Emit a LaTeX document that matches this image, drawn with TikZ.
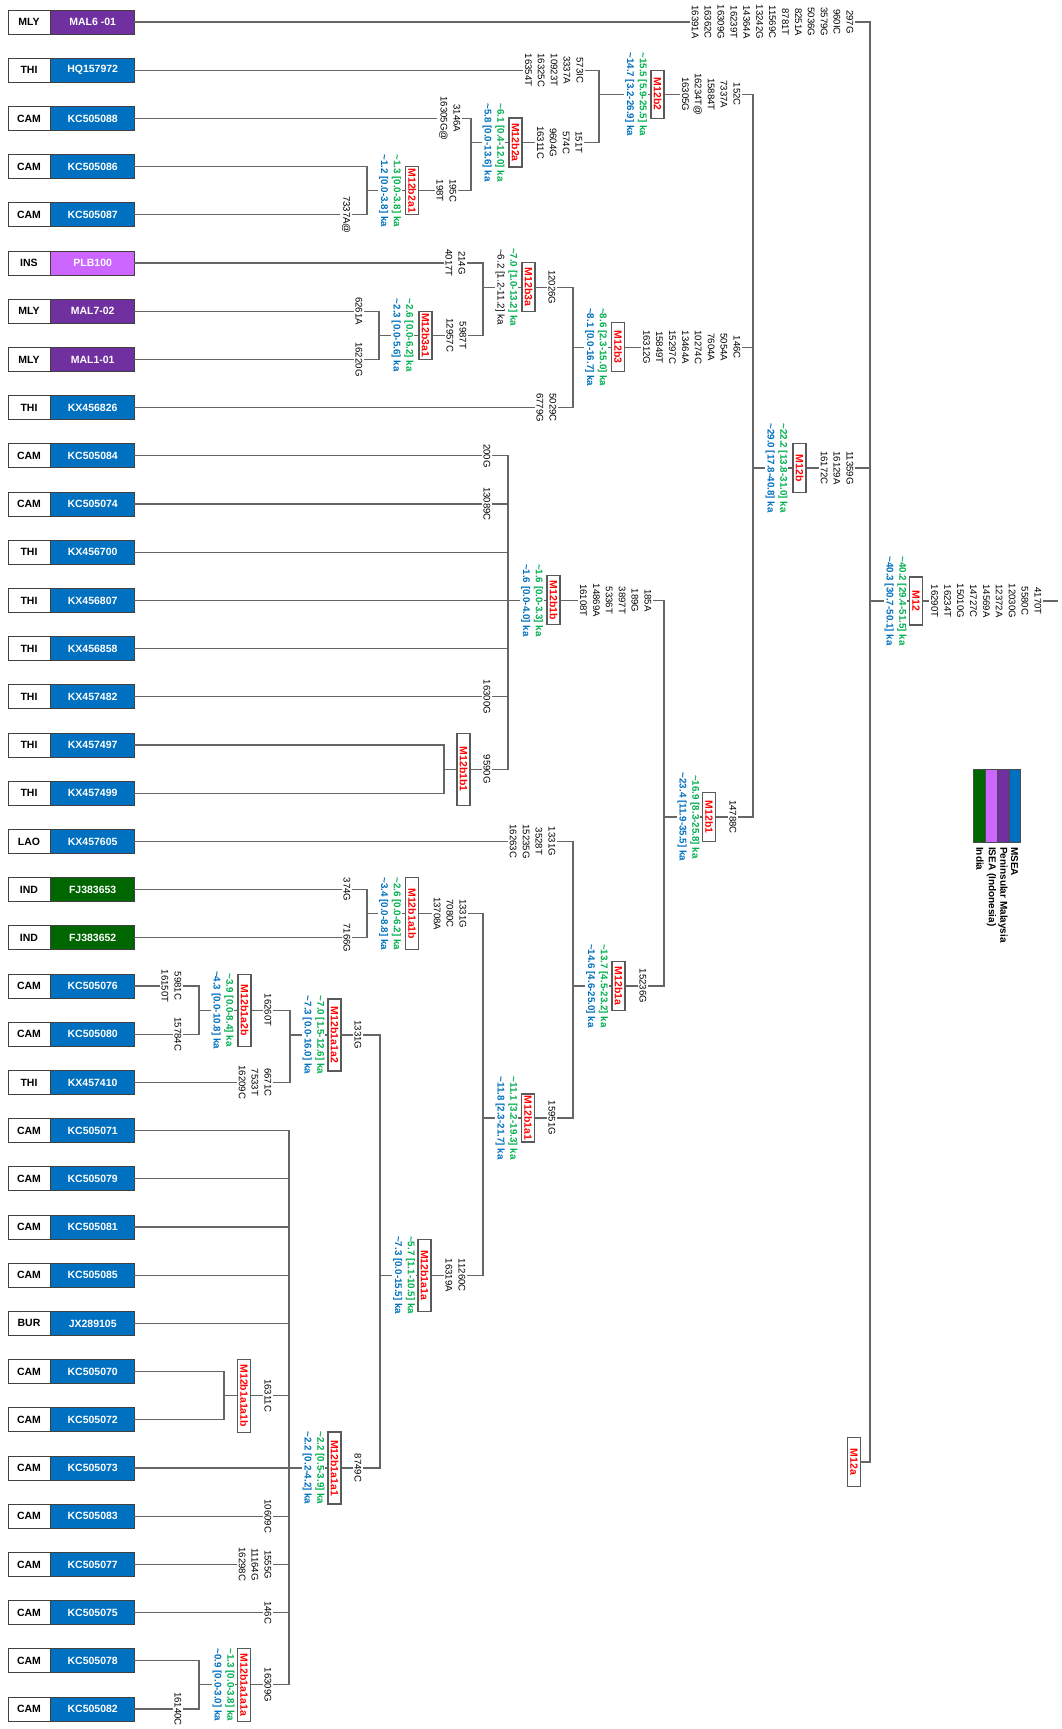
\documentclass[tikz,border=0pt]{standalone}
\usepackage{fontspec}
\setmainfont{Liberation Sans}
\definecolor{lineg}{HTML}{666666}
\definecolor{boxg}{HTML}{5A5A5A}
\definecolor{dgreen}{HTML}{00B050}
\definecolor{dblue}{HTML}{0070C0}
\definecolor{cblue}{HTML}{0070C0}
\definecolor{cpurple}{HTML}{7030A0}
\definecolor{cpink}{HTML}{CC66FF}
\definecolor{cgreen}{HTML}{006600}
\definecolor{mred}{HTML}{FF0000}
\newcommand\apx{\textasciitilde}
\newcommand\mytaxon[5]{%
  \node[ctry] (c#1) at (29,#2) {#3};
  \node[acc, fill=#5, anchor=west] (t#1) at (c#1.east) {#4};}
\newcommand\mymut[4]{\node[mutlab] (#1) at ({#2+5.5},#3) {#4};}
\newcommand\mydates[5]{\node[datelab] (#1) at (#2,#3) {\textcolor{dgreen}{#4}\\\textcolor{dblue}{#5}};}
\newcommand\mybox[5]{\node[cladebox, minimum width=#4pt] (#1) at (#2,#3) {#5};}
\newcommand\vnode[5]{\coordinate (#1) at (#2,#3); \coordinate (#1-t) at (#2,#4); \coordinate (#1-b) at (#2,#5);}
\begin{document}
\begin{tikzpicture}[x=1pt,y=-1pt,
 br/.style={draw=lineg, line width=1.15pt, line cap=rect},
 mutlab/.style={rotate=-90, align=center, fill=white, inner xsep=1pt, inner ysep=2pt, anchor=north, font=\fontsize{9.6}{12.9}\selectfont},
 datelab/.style={rotate=-90, align=center, fill=white, inner xsep=1pt, inner ysep=1pt, font=\bfseries\fontsize{9.8}{12.8}\selectfont},
 cladebox/.style={rotate=-90, draw=boxg, line width=1.1pt, fill=white, text=mred, font=\bfseries\fontsize{10.5}{12}\selectfont, inner sep=0pt, minimum height=13pt},
 ctry/.style={draw=black!75, line width=0.7pt, fill=white, minimum width=42pt, minimum height=24pt, inner sep=0pt, font=\bfseries\fontsize{10.5}{12}\selectfont},
 acc/.style={draw=black!75, line width=0.7pt, minimum width=84pt, minimum height=24pt, inner sep=0pt, text=white, font=\bfseries\fontsize{10.5}{12}\selectfont},
 legbar/.style={draw=black!70, line width=0.6pt, minimum width=11.75pt, minimum height=73pt, inner sep=0pt},
 leglab/.style={rotate=-90, anchor=west, inner sep=0pt, font=\bfseries\fontsize{10}{12}\selectfont},
]
\useasboundingbox (0,0) rectangle (1062,1729);
\fill[white] (0,0) rectangle (1062,1729);

% taxa
\mytaxon{0}{22}{MLY}{MAL6 -01}{cpurple}
\mytaxon{1}{70.2}{THI}{HQ157972}{cblue}
\mytaxon{2}{118.4}{CAM}{KC505088}{cblue}
\mytaxon{3}{166.6}{CAM}{KC505086}{cblue}
\mytaxon{4}{214.8}{CAM}{KC505087}{cblue}
\mytaxon{5}{263}{INS}{PLB100}{cpink}
\mytaxon{6}{311.2}{MLY}{MAL7-02}{cpurple}
\mytaxon{7}{359.4}{MLY}{MAL1-01}{cpurple}
\mytaxon{8}{407.6}{THI}{KX456826}{cblue}
\mytaxon{9}{455.8}{CAM}{KC505084}{cblue}
\mytaxon{10}{504}{CAM}{KC505074}{cblue}
\mytaxon{11}{552.2}{THI}{KX456700}{cblue}
\mytaxon{12}{600.4}{THI}{KX456807}{cblue}
\mytaxon{13}{648.6}{THI}{KX456858}{cblue}
\mytaxon{14}{696.8}{THI}{KX457482}{cblue}
\mytaxon{15}{745}{THI}{KX457497}{cblue}
\mytaxon{16}{793.2}{THI}{KX457499}{cblue}
\mytaxon{17}{841.4}{LAO}{KX457605}{cblue}
\mytaxon{18}{889.6}{IND}{FJ383653}{cgreen}
\mytaxon{19}{937.8}{IND}{FJ383652}{cgreen}
\mytaxon{20}{986}{CAM}{KC505076}{cblue}
\mytaxon{21}{1034.2}{CAM}{KC505080}{cblue}
\mytaxon{22}{1082.4}{THI}{KX457410}{cblue}
\mytaxon{23}{1130.6}{CAM}{KC505071}{cblue}
\mytaxon{24}{1178.8}{CAM}{KC505079}{cblue}
\mytaxon{25}{1227}{CAM}{KC505081}{cblue}
\mytaxon{26}{1275.2}{CAM}{KC505085}{cblue}
\mytaxon{27}{1323.4}{BUR}{JX289105}{cblue}
\mytaxon{28}{1371.6}{CAM}{KC505070}{cblue}
\mytaxon{29}{1419.8}{CAM}{KC505072}{cblue}
\mytaxon{30}{1468}{CAM}{KC505073}{cblue}
\mytaxon{31}{1516.2}{CAM}{KC505083}{cblue}
\mytaxon{32}{1564.4}{CAM}{KC505077}{cblue}
\mytaxon{33}{1612.6}{CAM}{KC505075}{cblue}
\mytaxon{34}{1660.8}{CAM}{KC505078}{cblue}
\mytaxon{35}{1709}{CAM}{KC505082}{cblue}

% internal nodes
\vnode{M12}{870}{601}{22}{1462}
\coordinate (root) at (1057,601);
\vnode{M12b}{753}{468}{94.3}{817}
\vnode{M12b2}{599}{94.3}{70.2}{142.5}
\vnode{M12b2a}{471}{142.5}{118.4}{190.7}
\vnode{M12b2a1}{367}{190.7}{166.6}{214.8}
\vnode{M12b3}{573}{347.3}{287.1}{407.6}
\vnode{M12b3a}{483}{287.1}{263}{335.3}
\vnode{M12b3a1}{379}{335.3}{311.2}{359.4}
\vnode{M12b1}{664}{817}{600.4}{986}
\vnode{M12b1b}{508}{600.4}{455.8}{769.1}
\vnode{M12b1b1}{444}{769.1}{745}{793.2}
\vnode{M12b1a}{573}{986}{841.4}{1118}
\vnode{M12b1a1}{483}{1118}{913.7}{1275.2}
\vnode{M12b1a1b}{367}{913.7}{889.6}{937.8}
\vnode{M12b1a1a}{380}{1275.2}{1035}{1468}
\vnode{M12b1a1a2}{290}{1035}{1010.1}{1082.4}
\vnode{M12b1a2b}{199}{1010.1}{986}{1034.2}
\vnode{M12b1a1a1}{289}{1468}{1130.6}{1684.9}
\vnode{M12b1a1a1b}{224}{1395.7}{1371.6}{1419.8}
\vnode{M12b1a1a1a}{199}{1684.9}{1660.8}{1709}

% connectors
\draw[br] (M12-t) -- (M12-b);
\draw[br] (M12) -- (root);
\foreach \n/\p in {M12b/M12, M12b2/M12b, M12b2a/M12b2, M12b2a1/M12b2a, M12b3/M12b, M12b3a/M12b3, M12b3a1/M12b3a, M12b1/M12b, M12b1b/M12b1, M12b1b1/M12b1b, M12b1a/M12b1, M12b1a1/M12b1a, M12b1a1b/M12b1a1, M12b1a1a/M12b1a1, M12b1a1a2/M12b1a1a, M12b1a2b/M12b1a1a2, M12b1a1a1/M12b1a1a, M12b1a1a1b/M12b1a1a1, M12b1a1a1a/M12b1a1a1}
  {\draw[br] (\n-t) -- (\n-b); \draw[br] (\n) -- (\n -| \p);}
\foreach \i/\p in {0/M12, 1/M12b2, 2/M12b2a, 3/M12b2a1, 4/M12b2a1, 5/M12b3a, 6/M12b3a1, 7/M12b3a1, 8/M12b3, 9/M12b1b, 10/M12b1b, 11/M12b1b, 12/M12b1b, 13/M12b1b, 14/M12b1b, 15/M12b1b1, 16/M12b1b1, 17/M12b1a, 18/M12b1a1b, 19/M12b1a1b, 20/M12b1a2b, 21/M12b1a2b, 22/M12b1a1a2, 23/M12b1a1a1, 24/M12b1a1a1, 25/M12b1a1a1, 26/M12b1a1a1, 27/M12b1a1a1, 28/M12b1a1a1b, 29/M12b1a1a1b, 30/M12b1a1a1, 31/M12b1a1a1, 32/M12b1a1a1, 33/M12b1a1a1, 34/M12b1a1a1a, 35/M12b1a1a1a}
  {\draw[br] (t\i.east) -- (t\i.east -| \p);}

% leaf mutations
\mymut{l0}{850}{22}{297G\\960IC\\3579G\\5036G\\8251A\\8781T\\11569C\\13242G\\14364A\\16239T\\16309G\\16362C\\16391A}
\mymut{l1}{580}{70.2}{573IC\\3337A\\10923T\\16325C\\16354T}
\mymut{l2}{457}{118.4}{3146A\\16305G@}
\mymut{l4}{347}{214.8}{7337A@}
\mymut{l5}{462}{263}{214G\\4017T}
\mymut{l6}{359}{311.2}{6261A}
\mymut{l7}{359}{359.4}{16220G}
\mymut{l8}{553}{407.6}{5029C\\6779G}
\mymut{l9}{487}{455.8}{200G}
\mymut{l10}{487}{504}{13089C}
\mymut{l14}{487}{696.8}{16300G}
\mymut{l17}{552}{841.4}{1331G\\3528T\\15235G\\16263C}
\mymut{l18}{347}{889.6}{374G}
\mymut{l19}{347}{937.8}{7166G}
\mymut{l20}{178}{986}{5981C\\16150T}
\mymut{l21}{178}{1034.2}{15784C}
\mymut{l22}{268}{1082.4}{6671C\\7533T\\16209C}
\mymut{l31}{268}{1516.2}{10609C}
\mymut{l32}{268}{1564.4}{1555G\\11164G\\16298C}
\mymut{l33}{268}{1612.6}{146C}
\mymut{l35}{178}{1709}{16140C}

% stem mutations
\mymut{s-root}{1038}{601}{4170T\\5580C\\12030G\\12372A\\14569A\\14727C\\15010G\\16234T\\16290T}
\mymut{s-M12b}{850}{468}{11359G\\16129A\\16172C}
\mymut{s-M12b2}{737}{94.3}{152C\\7337A\\15884T\\16234T@\\16305G}
\mymut{s-M12b2a}{579}{142.5}{151T\\574C\\9604G\\16311C}
\mymut{s-M12b2a1}{453}{190.7}{195C\\198T}
\mymut{s-M12b3}{737}{347.3}{146C\\5054A\\7604A\\10274C\\13464A\\15297C\\15849T\\16312G}
\mymut{s-M12b3a}{552}{287.1}{12026G}
\mymut{s-M12b3a1}{463}{335.3}{5987T\\12957C}
\mymut{s-M12b1}{733}{817}{14788C}
\mymut{s-M12b1b}{648}{600.4}{185A\\189G\\3897T\\5336T\\14869A\\16108T}
\mymut{s-M12b1b1}{487}{769.1}{9590G}
\mymut{s-M12b1a}{643}{986}{15236G}
\mymut{s-M12b1a1}{552}{1118}{15951G}
\mymut{s-M12b1a1b}{463}{913.7}{1331G\\7080C\\13708A}
\mymut{s-M12b1a1a}{462}{1275.2}{11260C\\16319A}
\mymut{s-M12b1a1a2}{358}{1035}{1331G}
\mymut{s-M12b1a2b}{268}{1010.1}{16260T}
\mymut{s-M12b1a1a1}{358}{1468}{8749C}
\mymut{s-M12b1a1a1b}{268}{1395.7}{16311C}
\mymut{s-M12b1a1a1a}{268}{1684.9}{16309G}

% dates
\mydates{d-M12}{895.5}{601}{\apx40.2 [29.4-51.5] ka}{\apx40.3 [30.7-50.1] ka}
\mydates{d-M12b}{776.5}{468}{\apx22.2 [13.8-31.0] ka}{\apx29.0 [17.8-40.8] ka}
\mydates{d-M12b2}{636}{94.3}{\apx15.5 [5.9-25.5] ka}{\apx14.7 [3.2-26.9] ka}
\mydates{d-M12b2a}{493.5}{142.5}{\apx6.1 [0.4-12.0] ka}{\apx5.8 [0.0-13.6] ka}
\mydates{d-M12b2a1}{390}{190.7}{\apx1.3 [0.0-3.8] ka}{\apx1.2 [0.0-3.8] ka}
\mydates{d-M12b3}{596}{347.3}{\apx8.6 [2.3-15.0] ka}{\apx8.1 [0.0-16.7] ka}
\node[datelab] (d-M12b3a) at (506.5,287.1) {\textcolor{dgreen}{\apx7.0 [1.0-13.2] ka}\\{\mdseries\apx6.2 [1.2-11.2] ka}};
\mydates{d-M12b3a1}{402.5}{335.3}{\apx2.6 [0.0-6.2] ka}{\apx2.3 [0.0-5.6] ka}
\mydates{d-M12b1}{688.5}{817}{\apx16.9 [8.3-25.8] ka}{\apx23.4 [11.9-35.5] ka}
\mydates{d-M12b1b}{532}{600.4}{\apx1.6 [0.0-3.3] ka}{\apx1.6 [0.0-4.0] ka}
\mydates{d-M12b1a}{597}{986}{\apx13.7 [4.5-23.2] ka}{\apx14.6 [4.6-25.0] ka}
\mydates{d-M12b1a1}{506.5}{1118}{\apx11.1 [3.2-19.3] ka}{\apx11.8 [2.3-21.7] ka}
\mydates{d-M12b1a1b}{390}{913.7}{\apx2.6 [0.0-6.2] ka}{\apx3.4 [0.0-8.8] ka}
\mydates{d-M12b1a1a}{404}{1275.2}{\apx5.7 [1.1-10.5] ka}{\apx7.3 [0.0-15.5] ka}
\mydates{d-M12b1a1a2}{313.5}{1035}{\apx7.0 [1.5-12.6] ka}{\apx7.3 [0.0-16.0] ka}
\mydates{d-M12b1a2b}{222.5}{1010.1}{\apx3.9 [0.0-8.4] ka}{\apx4.3 [0.0-10.8] ka}
\mydates{d-M12b1a1a1}{313.5}{1468}{\apx2.2 [0.5-3.9] ka}{\apx2.2 [0.2-4.2] ka}
\mydates{d-M12b1a1a1a}{223.5}{1684.9}{\apx1.3 [0.0-3.8] ka}{\apx0.9 [0.0-3.0] ka}

% clade boxes
\mybox{b-M12}{916}{601}{48}{M12}
\mybox{b-M12b}{799.5}{468}{49}{M12b}
\mybox{b-M12b2}{657.5}{94.3}{48}{M12b2}
\mybox{b-M12b2a}{515.5}{142.5}{49}{M12b2a}
\mybox{b-M12b2a1}{412}{190.7}{48}{M12b2a1}
\mybox{b-M12b3}{618}{347.3}{49}{M12b3}
\mybox{b-M12b3a}{528.5}{287.1}{49}{M12b3a}
\mybox{b-M12b3a1}{425.5}{335.3}{48}{M12b3a1}
\mybox{b-M12b1}{709}{817}{49}{M12b1}
\mybox{b-M12b1b}{553.5}{600.4}{49}{M12b1b}
\mybox{b-M12b1b1}{463.5}{769.1}{72}{M12b1b1}
\mybox{b-M12b1a}{618.5}{986}{49}{M12b1a}
\mybox{b-M12b1a1}{528}{1118}{48}{M12b1a1}
\mybox{b-M12b1a1b}{412}{913.7}{72}{M12b1a1b}
\mybox{b-M12b1a1a}{424.5}{1275.2}{72}{M12b1a1a}
\mybox{b-M12b1a1a2}{334.5}{1035}{72}{M12b1a1a2}
\mybox{b-M12b1a2b}{244.5}{1010.1}{72}{M12b1a2b}
\mybox{b-M12b1a1a1}{334.5}{1468}{72}{M12b1a1a1}
\mybox{b-M12b1a1a1b}{244}{1395.7}{73}{M12b1a1a1b}
\mybox{b-M12b1a1a1a}{244}{1684.9}{73}{M12b1a1a1a}
\mybox{m12a}{854}{1462}{49}{M12a}
\draw[br] (m12a) -- (m12a -| M12);

% legend
\node[legbar, fill=cgreen] (lg1) at (979.5,805.5) {};
\node[legbar, fill=cpink] (lg2) at (991.25,805.5) {};
\node[legbar, fill=cpurple] (lg3) at (1003,805.5) {};
\node[legbar, fill=cblue] (lg4) at (1014.75,805.5) {};
\node[leglab] (ll4) at (1014.5,847) {MSEA};
\node[leglab] (ll3) at (1003,847) {Peninsular Malaysia};
\node[leglab] (ll2) at (991.5,847) {ISEA (Indonesia)};
\node[leglab] (ll1) at (980,847) {India};
\end{tikzpicture}
\end{document}
